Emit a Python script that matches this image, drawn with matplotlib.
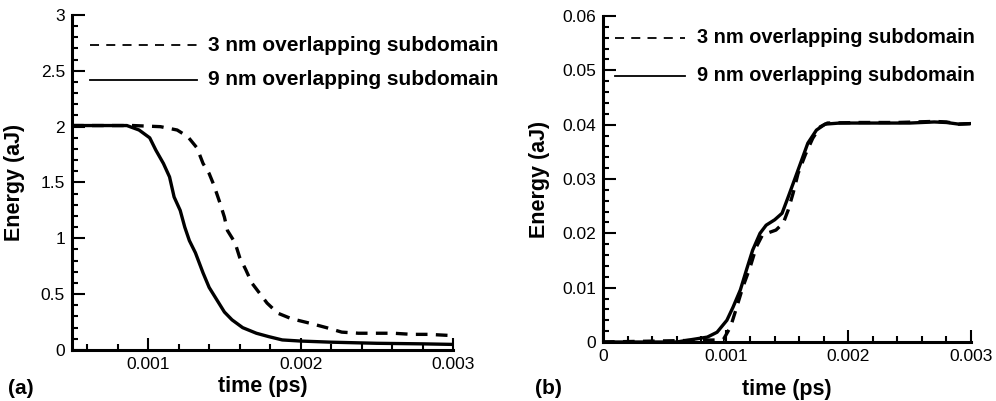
import matplotlib.pyplot as plt
from matplotlib.ticker import MultipleLocator, FuncFormatter

plt.rcParams['font.family'] = ['Liberation Sans', 'DejaVu Sans']

# (a) energy decay
a_t_3nm = [0.0005, 0.0009, 0.00108, 0.00119, 0.00126, 0.00132, 0.00136, 0.0014, 0.00143,
           0.00147, 0.0015, 0.00152, 0.00157, 0.0016, 0.00164, 0.00168, 0.00173, 0.00178,
           0.00185, 0.00194, 0.00206, 0.00217, 0.00227, 0.00238, 0.00249, 0.00261, 0.00273,
           0.00284, 0.00298]
a_e_3nm = [2.01, 2.01, 2.0, 1.97, 1.91, 1.81, 1.67, 1.58, 1.48,
           1.32, 1.19, 1.07, 0.96, 0.83, 0.72, 0.60, 0.51, 0.42,
           0.33, 0.28, 0.24, 0.20, 0.16, 0.15, 0.15, 0.15, 0.14,
           0.14, 0.13]
a_t_9nm = [0.0005, 0.00086, 0.00094, 0.00101, 0.00105, 0.0011, 0.00114, 0.00117, 0.00121,
           0.00124, 0.00127, 0.00131, 0.00136, 0.0014, 0.00145, 0.0015, 0.00155, 0.00162,
           0.00171, 0.00179, 0.00188, 0.002, 0.0022, 0.0025, 0.0028, 0.003]
a_e_9nm = [2.01, 2.01, 1.97, 1.90, 1.79, 1.67, 1.55, 1.37, 1.25,
           1.10, 0.98, 0.87, 0.69, 0.56, 0.45, 0.34, 0.27, 0.20,
           0.15, 0.12, 0.09, 0.08, 0.07, 0.06, 0.055, 0.05]

# (b) energy rise
b_t_3nm = [0.0, 0.00098, 0.00104, 0.00109, 0.00114, 0.0012, 0.00125, 0.0013, 0.00136,
           0.00141, 0.00147, 0.00151, 0.00155, 0.00159, 0.00165, 0.00171, 0.00177, 0.00183,
           0.0021, 0.0024, 0.0027, 0.0028, 0.0029, 0.003]
b_e_3nm = [0.0, 0.0004, 0.0028, 0.0064, 0.0101, 0.0138, 0.0175, 0.0197, 0.0202,
           0.0206, 0.0219, 0.0243, 0.0274, 0.031, 0.0345, 0.0375, 0.0396, 0.0403,
           0.0404, 0.0404, 0.0406, 0.0405, 0.0401, 0.0402]
b_t_9nm = [0.0, 0.0006, 0.00071, 0.00085, 0.00093, 0.00101, 0.00106, 0.00112, 0.00117,
           0.00122, 0.00128, 0.00133, 0.0014, 0.00146, 0.00151, 0.00157, 0.00162, 0.00167,
           0.00174, 0.00181, 0.00193, 0.0022, 0.0025, 0.0027, 0.0028, 0.0029, 0.003]
b_e_9nm = [0.0, 0.0, 0.0004, 0.0009, 0.0018, 0.004, 0.0064, 0.0096, 0.0133,
           0.0169, 0.020, 0.0215, 0.0225, 0.0237, 0.0267, 0.0304, 0.0335, 0.0366,
           0.039, 0.0401, 0.0403, 0.0403, 0.0403, 0.0405, 0.0404, 0.0401, 0.0402]

labels = ['3 nm overlapping subdomain', '9 nm overlapping subdomain']


def fmt(v, p):
    return '0' if abs(v) < 1e-12 else f'{v:g}'


def style_axes(ax, xmaj, xmin, ymaj, ymin, xpad):
    for s in ['top', 'right']:
        ax.spines[s].set_visible(False)
    for s in ['left', 'bottom']:
        ax.spines[s].set_linewidth(2.2)
    ax.xaxis.set_major_locator(MultipleLocator(xmaj))
    ax.xaxis.set_minor_locator(MultipleLocator(xmin))
    ax.yaxis.set_major_locator(MultipleLocator(ymaj))
    ax.yaxis.set_minor_locator(MultipleLocator(ymin))
    ax.tick_params(which='both', direction='in', labelsize=12.5, width=1.5)
    ax.tick_params(which='major', length=9, pad=5)
    ax.tick_params(which='minor', length=4.5)
    ax.xaxis.set_major_formatter(FuncFormatter(fmt))
    ax.yaxis.set_major_formatter(FuncFormatter(fmt))
    ax.set_xlabel('time (ps)', fontsize=15.5, fontweight='bold', labelpad=xpad)
    ax.set_ylabel('Energy (aJ)', fontsize=15.5, fontweight='bold')


fig = plt.figure(figsize=(9.96, 4.01), dpi=100)
ax1 = fig.add_axes([0.0723, 0.1272, 0.3825, 0.8354])
ax2 = fig.add_axes([0.6054, 0.1471, 0.3695, 0.813])

ax1.plot(a_t_3nm, a_e_3nm, 'k--', lw=2.4, dashes=(3.5, 2.5))
ax1.plot(a_t_9nm, a_e_9nm, 'k-', lw=2.4)
ax1.set_xlim(0.0005, 0.003)
ax1.set_ylim(0, 3)
style_axes(ax1, 0.001, 0.0002, 0.5, 0.1, 3)
ax1.set_xticks([0.001, 0.002, 0.003])
ax1.yaxis.set_label_coords(-0.123, 0.5)

ax2.plot(b_t_3nm, b_e_3nm, 'k--', lw=2.4, dashes=(3.5, 2.5))
ax2.plot(b_t_9nm, b_e_9nm, 'k-', lw=2.4)
ax2.set_xlim(0, 0.003)
ax2.set_ylim(0, 0.06)
style_axes(ax2, 0.001, 0.0002, 0.01, 0.002, 11)
ax2.yaxis.set_label_coords(-0.144, 0.5)

# legends drawn as in original (line + bold label)
for ax, x0, x1, xt, ys, fs in [(ax1, 0.047, 0.328, 0.357, (0.91, 0.806), 15),
                                (ax2, 0.033, 0.223, 0.255, (0.933, 0.816), 14.4)]:
    ax.plot([x0, x1], [ys[0], ys[0]], 'k--', lw=1.3, dashes=(5, 4), transform=ax.transAxes)
    ax.plot([x0, x1], [ys[1], ys[1]], 'k-', lw=1.3, transform=ax.transAxes)
    for y, lab in zip(ys, labels):
        ax.text(xt, y, lab, transform=ax.transAxes, fontsize=fs, fontweight='bold', va='center')

fig.text(0.008, 0.032, '(a)', fontsize=15, fontweight='bold', va='center')
fig.text(0.537, 0.032, '(b)', fontsize=15, fontweight='bold', va='center')

plt.savefig('out.png', dpi=100)
